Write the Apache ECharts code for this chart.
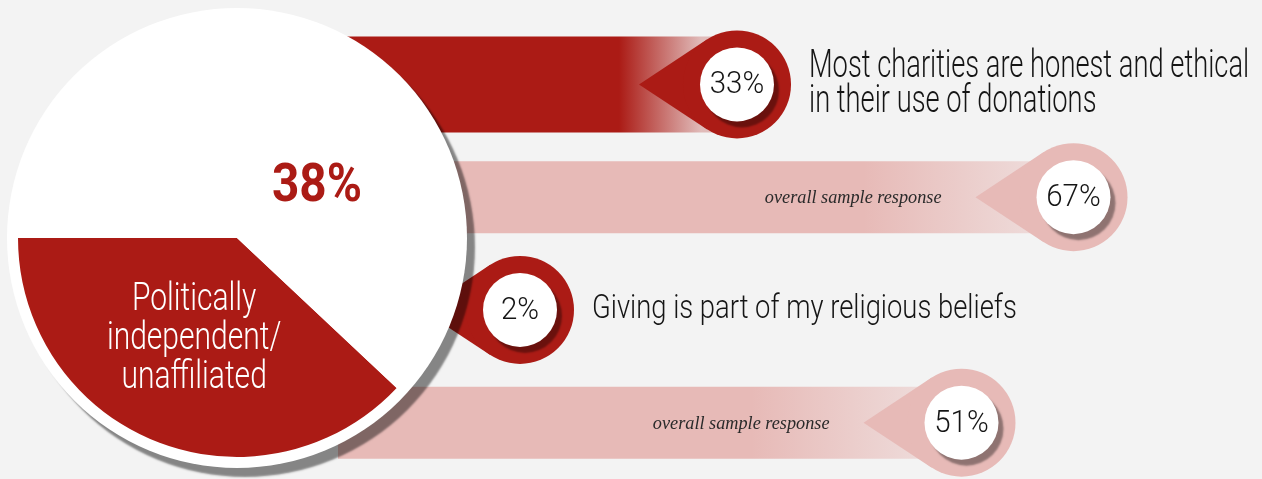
<!DOCTYPE html>
<html>
<head>
<meta charset="utf-8">
<script src="https://cdn.jsdelivr.net/npm/echarts@6/dist/echarts.min.js"></script>
<style>
  html, body { margin: 0; padding: 0; background: #f3f3f3; }
  #chart { width: 1262px; height: 479px; }
</style>
</head>
<body>
<div id="chart"></div>
<script>
// Statements and the share of respondents agreeing with each
const statements = [
  'Most charities are honest and ethical\nin their use of donations',
  'Giving is part of my religious beliefs'
];
const segmentAgree = [33, 2];   // politically independent / unaffiliated respondents
const overallAgree = [67, 51];  // whole sample
const overallCaption = 'overall sample response';

// Segment size within the whole sample
const segmentName = 'Politically\nindependent/\nunaffiliated';
const segmentShare = 38;

// ---- styling ----
const DARK = '#ab1b15';
const PINK = '#e7bab7';
const INK = '#151515';
const SANS = 'Roboto, "Liberation Sans", sans-serif';
const SERIF = '"Liberation Serif", "DejaVu Serif", serif';

const PIE_CENTER = [237, 238];
const PIE_R = 219;        // coloured sectors
const DISC_R = 230;       // white disc behind them
const RIBBON_LEFT = 338;  // ribbons start underneath the disc
const PIN_R = 54;         // teardrop marker radius
const PIN_TIP = 98;       // distance from marker centre to its point
const FACE_R = 37;        // white face of the marker

// type settings for the two statements (big first one, smaller second one)
const statementType = [
  { size: 39, scaleX: 0.70 },
  { size: 33, scaleX: 0.83 }
];

// y slots: statement row followed by its whole-sample row
const rowNames = statements.flatMap(s => [s, s + ' (overall)']);

// x of the disc's right edge at height y
function discEdge(y) {
  const dy = y - PIE_CENTER[1];
  return PIE_CENTER[0] + Math.sqrt(Math.max(0, DISC_R * DISC_R - dy * dy));
}

function pinRenderer(kind) {
  const isSeg = kind === 'segment';
  return function (params, api) {
    const v = api.value(0);
    const row = api.value(1);
    const pt = api.coord([v, row]);
    const cx = pt[0], cy = pt[1];
    const solid = isSeg ? DARK : PINK;
    const faded = isSeg ? 'rgba(171,27,21,0.26)' : 'rgba(231,186,183,0.42)';
    const barH = isSeg ? 96 : 72;
    const fadeFrom = isSeg ? 118 : 210;
    const a = Math.acos(PIN_R / PIN_TIP);
    const tx = cx - PIN_R * Math.cos(a);
    const ty = PIN_R * Math.sin(a);

    const children = [];
    // a marker whose point already tucks under the disc needs no ribbon
    if (cx - PIN_TIP > discEdge(cy)) {
      children.push({
        type: 'rect',
        shape: { x: RIBBON_LEFT, y: cy - barH / 2, width: cx - RIBBON_LEFT, height: barH },
        style: {
          fill: new echarts.graphic.LinearGradient(cx - fadeFrom, 0, cx - 36, 0, [
            { offset: 0, color: solid },
            { offset: 1, color: faded }
          ], true)
        }
      });
    }
    children.push(
      {
        type: 'polygon',
        shape: { points: [[cx - PIN_TIP, cy], [tx, cy - ty], [tx, cy + ty]] },
        style: { fill: solid }
      },
      { type: 'circle', shape: { cx: cx, cy: cy, r: PIN_R }, style: { fill: solid } },
      {
        type: 'circle',
        shape: { cx: cx, cy: cy, r: FACE_R },
        style: {
          fill: '#ffffff',
          shadowColor: 'rgba(0,0,0,0.38)',
          shadowOffsetX: 5,
          shadowOffsetY: 6,
          shadowBlur: 2
        }
      },
      {
        type: 'text',
        x: cx,
        y: cy + 1,
        scaleX: 0.92,
        style: {
          text: v + '%',
          fill: INK,
          fontFamily: SANS,
          fontWeight: 300,
          fontSize: 32,
          align: 'center',
          verticalAlign: 'middle'
        }
      }
    );

    if (isSeg) {
      const idx = params.dataIndex;
      const t = statementType[idx];
      children.push({
        type: 'text',
        x: cx + 72,
        y: cy,
        scaleX: t.scaleX,
        style: {
          text: statements[idx],
          fill: INK,
          fontFamily: SANS,
          fontWeight: 300,
          fontSize: t.size,
          lineHeight: 35,
          align: 'left',
          verticalAlign: 'middle'
        }
      });
    } else {
      children.push({
        type: 'text',
        x: cx - 132,
        y: cy + 1,
        scaleX: 0.96,
        style: {
          text: overallCaption,
          fill: '#2a2a2a',
          fontFamily: SERIF,
          fontStyle: 'italic',
          fontSize: 19,
          align: 'right',
          verticalAlign: 'middle'
        }
      });
    }
    return { type: 'group', children: children };
  };
}

// pie: the segment sector runs from its start edge clockwise round to 9 o'clock
const startAngle = 180 + segmentShare * 3.6;
const midRad = (startAngle - segmentShare * 1.8) * Math.PI / 180;
const nameAt = [
  PIE_CENTER[0] + Math.cos(midRad) * PIE_R * 0.47,
  PIE_CENTER[1] - Math.sin(midRad) * PIE_R * 0.47
];

const chart = echarts.init(document.getElementById('chart'), null, { renderer: 'canvas' });

chart.setOption({
  animation: false,
  backgroundColor: '#f3f3f3',
  grid: [
    { left: 506, width: 630, top: 28, height: 451 },
    { left: 604.5, width: 630, top: 28, height: 451 }
  ],
  xAxis: [
    { type: 'value', gridIndex: 0, min: 0, max: 90, show: false },
    { type: 'value', gridIndex: 1, min: 0, max: 90, show: false }
  ],
  yAxis: [
    { type: 'category', gridIndex: 0, data: rowNames, inverse: true, show: false },
    { type: 'category', gridIndex: 1, data: rowNames, inverse: true, show: false }
  ],
  series: [
    {
      type: 'custom',
      name: 'segment',
      xAxisIndex: 0,
      yAxisIndex: 0,
      z: 1,
      silent: true,
      renderItem: pinRenderer('segment'),
      data: segmentAgree.map((v, i) => [v, i * 2])
    },
    {
      type: 'custom',
      name: 'overall',
      xAxisIndex: 1,
      yAxisIndex: 1,
      z: 1,
      silent: true,
      renderItem: pinRenderer('overall'),
      data: overallAgree.map((v, i) => [v, i * 2 + 1])
    },
    {
      // white disc with its drop shadow
      type: 'pie',
      z: 3,
      silent: true,
      center: PIE_CENTER,
      radius: DISC_R,
      label: { show: false },
      labelLine: { show: false },
      emphasis: { disabled: true },
      itemStyle: {
        color: '#ffffff',
        borderWidth: 0,
        shadowColor: 'rgba(0,0,0,0.45)',
        shadowBlur: 2,
        shadowOffsetX: 8,
        shadowOffsetY: 9
      },
      data: [{ value: 1 }]
    },
    {
      type: 'pie',
      z: 4,
      silent: true,
      center: PIE_CENTER,
      radius: PIE_R,
      startAngle: startAngle,
      clockwise: true,
      label: { show: false },
      labelLine: { show: false },
      emphasis: { disabled: true },
      itemStyle: { borderWidth: 0 },
      data: [
        { name: segmentName, value: segmentShare, itemStyle: { color: DARK } },
        { name: 'other', value: 100 - segmentShare, itemStyle: { color: '#ffffff' } }
      ]
    }
  ],
  graphic: [
    {
      type: 'text',
      z: 10,
      x: 317,
      y: 188,
      scaleX: 0.9,
      style: {
        text: segmentShare + '%',
        fill: DARK,
        fontFamily: SANS,
        fontWeight: 'bold',
        fontSize: 53,
        align: 'center',
        verticalAlign: 'middle'
      }
    },
    {
      type: 'text',
      z: 10,
      x: nameAt[0] - 5,
      y: nameAt[1] + 6,
      scaleX: 0.79,
      style: {
        text: segmentName,
        fill: '#ffffff',
        fontFamily: SANS,
        fontWeight: 300,
        fontSize: 38,
        lineHeight: 39,
        align: 'center',
        verticalAlign: 'middle'
      }
    }
  ]
});
</script>
</body>
</html>
